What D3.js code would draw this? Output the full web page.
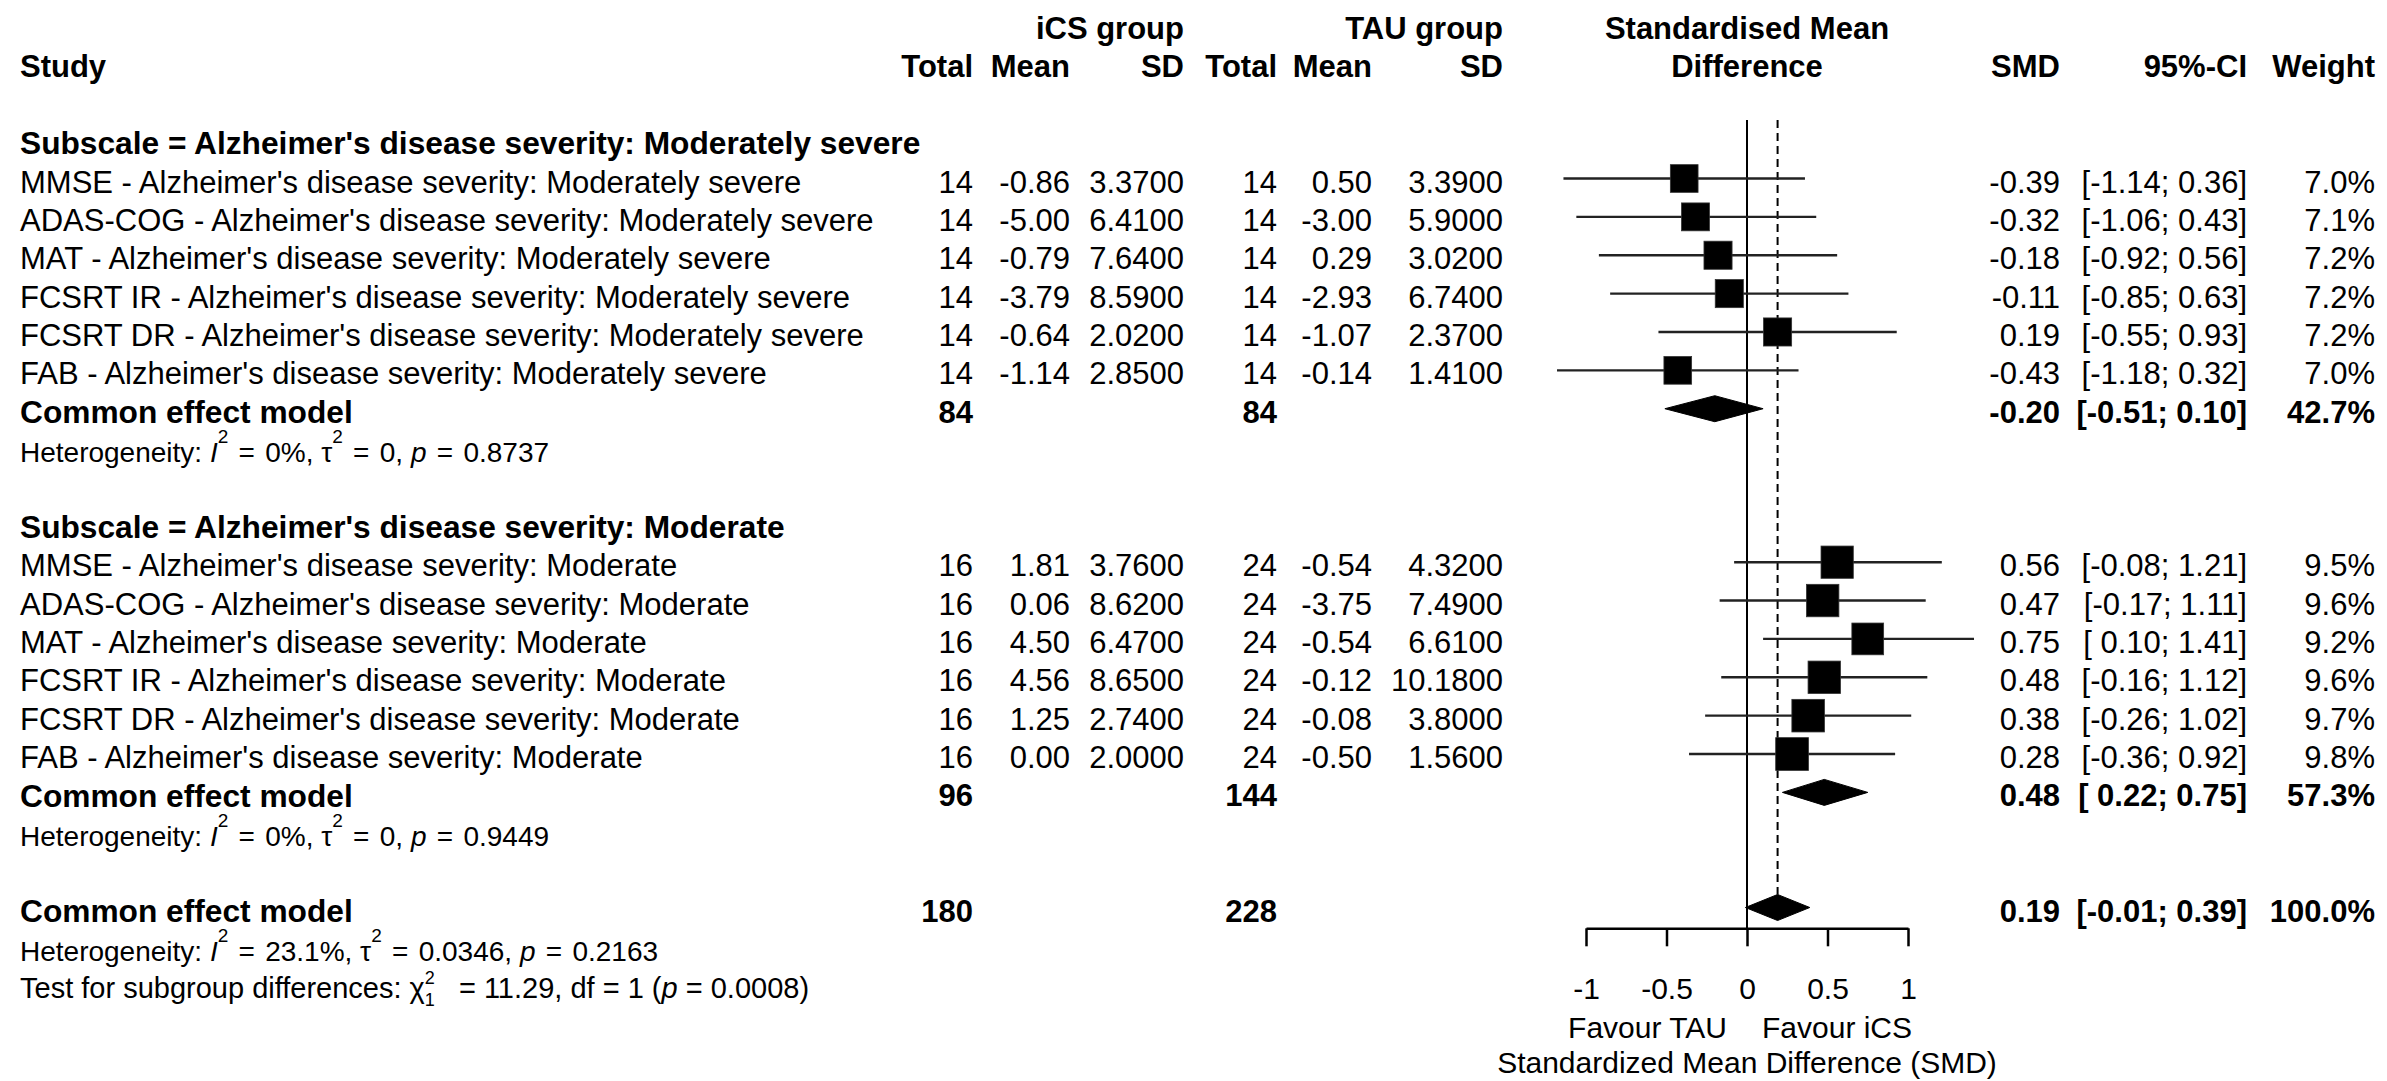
<!DOCTYPE html>
<html><head><meta charset="utf-8">
<script src="https://cdn.jsdelivr.net/npm/d3@7"></script>
<style>
html,body{margin:0;padding:0;background:#fff;}
svg{display:block;}
text{font-family:"Liberation Sans", Arial, sans-serif; fill:#000;}
</style></head><body>
<svg id="chart" width="2387" height="1081"></svg>
<script>
// ---------- data ----------
const studyNames = ["MMSE","ADAS-COG","MAT","FCSRT IR","FCSRT DR","FAB"];
const subgroupNames = ["Moderately severe","Moderate"];
const studyGroup = [0,0,0,0,0,0,1,1,1,1,1,1];
const icsTotal = [14,14,14,14,14,14,16,16,16,16,16,16];
const icsMean  = [-0.86,-5.00,-0.79,-3.79,-0.64,-1.14, 1.81,0.06,4.50,4.56,1.25,0.00];
const icsSD    = [3.37,6.41,7.64,8.59,2.02,2.85, 3.76,8.62,6.47,8.65,2.74,2.00];
const tauTotal = [14,14,14,14,14,14,24,24,24,24,24,24];
const tauMean  = [0.50,-3.00,0.29,-2.93,-1.07,-0.14, -0.54,-3.75,-0.54,-0.12,-0.08,-0.50];
const tauSD    = [3.39,5.90,3.02,6.74,2.37,1.41, 4.32,7.49,6.61,10.18,3.80,1.56];
const smd      = [-0.39,-0.32,-0.18,-0.11,0.19,-0.43, 0.56,0.47,0.75,0.48,0.38,0.28];
const ciLow    = [-1.14,-1.06,-0.92,-0.85,-0.55,-1.18, -0.08,-0.17,0.10,-0.16,-0.26,-0.36];
const ciHigh   = [0.36,0.43,0.56,0.63,0.93,0.32, 1.21,1.11,1.41,1.12,1.02,0.92];
const weight   = [7.0,7.1,7.2,7.2,7.2,7.0, 9.5,9.6,9.2,9.6,9.7,9.8];

const pooledLabel    = "Common effect model";
const pooledIcsTotal = [84,96,180];
const pooledTauTotal = [84,144,228];
const pooledSmd      = [-0.20,0.48,0.19];
const pooledLow      = [-0.51,0.22,-0.01];
const pooledHigh     = [0.10,0.75,0.39];
const pooledWeight   = [42.7,57.3,100.0];
const hetI2   = ["0%","0%","23.1%"];
const hetTau2 = ["0","0","0.0346"];
const hetP    = ["0.8737","0.9449","0.2163"];
const testChi2 = "11.29", testDf = "1", testP = "0.0008";
const axisTicks = [-1,-0.5,0,0.5,1];

// ---------- layout ----------
const svg = d3.select("#chart");
const FS = 31, FSL = 31, FSB = 31.7, FSH = 28, FST = 29;
const x = d3.scaleLinear().domain([-1,1]).range([1586,1908]);
const yRow = d3.scaleLinear().domain([0,19]).range([178.5,907.5]);
const boxSide = d3.scaleSqrt().domain([0,7.0]).range([0,27.7]);
const base = (row, fs) => yRow(row) + 0.358*fs + 3;

const col = {icsN:973, icsMean:1070, icsSD:1184, tauN:1277, tauMean:1372, tauSD:1503, smd:2060, ci:2247, w:2375};

function txt(xp, row, s, opt={}) {
  const fs = opt.size || FS;
  return svg.append("text")
    .attr("x", xp).attr("y", base(row, fs))
    .attr("text-anchor", opt.anchor || "start")
    .attr("xml:space","preserve")
    .style("white-space","pre")
    .style("font-size", fs+"px")
    .style("font-weight", opt.bold ? "bold" : "normal")
    .text(s);
}
const f2 = v => v.toFixed(2);
const f4 = v => v.toFixed(4);
const ciStr = (lo,hi) => "[" + (lo < 0 ? f2(lo) : " " + f2(lo)) + "; " + f2(hi) + "]";

// ---------- headers ----------
txt(col.icsSD, -4, "iCS group", {anchor:"end", bold:true});
txt(col.tauSD, -4, "TAU group", {anchor:"end", bold:true});
txt(x(0), -4, "Standardised Mean", {anchor:"middle", bold:true});
txt(x(0), -3, "Difference", {anchor:"middle", bold:true});
txt(20, -3, "Study", {bold:true});
[["icsN","Total"],["icsMean","Mean"],["icsSD","SD"],["tauN","Total"],["tauMean","Mean"],["tauSD","SD"],["smd","SMD"],["ci","95%-CI"],["w","Weight"]]
  .forEach(([k,s]) => txt(col[k], -3, s, {anchor:"end", bold:true}));

// ---------- reference lines ----------
svg.append("line").attr("x1",x(0)).attr("x2",x(0)).attr("y1",120).attr("y2",928.3)
  .attr("stroke","#000").attr("stroke-width",2);
svg.append("line").attr("x1",x(pooledSmd[2])).attr("x2",x(pooledSmd[2])).attr("y1",120).attr("y2",yRow(19)-13)
  .attr("stroke","#000").attr("stroke-width",2).attr("stroke-dasharray","8,5");

// ---------- subgroup headers ----------
subgroupNames.forEach((g,gi) => {
  txt(20, gi*10 - 1, "Subscale = Alzheimer's disease severity: " + g, {bold:true, size:FSB});
});

// ---------- studies ----------
studyNames.concat(studyNames).forEach((nm,k) => {
  const g = studyGroup[k], i = k - g*6, row = g*10 + i;
  txt(20, row, nm + " - Alzheimer's disease severity: " + subgroupNames[g], {size:FSL});
  txt(col.icsN, row, String(icsTotal[k]), {anchor:"end"});
  txt(col.icsMean, row, f2(icsMean[k]), {anchor:"end"});
  txt(col.icsSD, row, f4(icsSD[k]), {anchor:"end"});
  txt(col.tauN, row, String(tauTotal[k]), {anchor:"end"});
  txt(col.tauMean, row, f2(tauMean[k]), {anchor:"end"});
  txt(col.tauSD, row, f4(tauSD[k]), {anchor:"end"});
  txt(col.smd, row, f2(smd[k]), {anchor:"end"});
  txt(col.ci, row, ciStr(ciLow[k], ciHigh[k]), {anchor:"end"});
  txt(col.w, row, weight[k].toFixed(1) + "%", {anchor:"end"});
  const yc = yRow(row);
  svg.append("line").attr("x1",x(ciLow[k])).attr("x2",x(ciHigh[k])).attr("y1",yc).attr("y2",yc)
    .attr("stroke","#222").attr("stroke-width",2.4);
  const s = boxSide(weight[k]);
  svg.append("rect").attr("x",x(smd[k])-s/2).attr("y",yc-s/2).attr("width",s).attr("height",s)
    .attr("fill","#000").attr("stroke","#333").attr("stroke-width",0.8);
});

// ---------- pooled ----------
const pooledRows = [6,16,19];
const hetRows = [7,17,20];
pooledRows.forEach((row,j) => {
  txt(20, row, pooledLabel, {bold:true, size:FSB});
  txt(col.icsN, row, String(pooledIcsTotal[j]), {anchor:"end", bold:true});
  txt(col.tauN, row, String(pooledTauTotal[j]), {anchor:"end", bold:true});
  txt(col.smd, row, f2(pooledSmd[j]), {anchor:"end", bold:true});
  txt(col.ci, row, ciStr(pooledLow[j], pooledHigh[j]), {anchor:"end", bold:true});
  txt(col.w, row, pooledWeight[j].toFixed(1) + "%", {anchor:"end", bold:true});
  const yc = yRow(row), h = 13;
  const pts = [[x(pooledLow[j]),yc],[x(pooledSmd[j]),yc-h],[x(pooledHigh[j]),yc],[x(pooledSmd[j]),yc+h]];
  svg.append("path").attr("d", d3.line()(pts) + "Z").attr("fill","#000").attr("stroke","#000").attr("stroke-width",1);
});

// ---------- heterogeneity ----------
hetRows.forEach((row,j) => {
  const t = svg.append("text").attr("x",20).attr("y",base(row,FSH)+2).style("font-size",FSH+"px").attr("xml:space","preserve").style("white-space","pre");
  t.append("tspan").text("Heterogeneity: ");
  t.append("tspan").style("font-style","italic").text("I");
  t.append("tspan").attr("dy",-19).style("font-size","19px").text("2");
  t.append("tspan").attr("dy",19).attr("dx",2.5).text(" = ");
  t.append("tspan").attr("dx",2.5).text(hetI2[j] + ", \u03c4");
  t.append("tspan").attr("dy",-19).style("font-size","19px").text("2");
  t.append("tspan").attr("dy",19).attr("dx",2.5).text(" = ");
  t.append("tspan").attr("dx",2.5).text(hetTau2[j] + ", ");
  t.append("tspan").style("font-style","italic").text("p");
  t.append("tspan").attr("dx",2.5).text(" = ");
  t.append("tspan").attr("dx",2.5).text(hetP[j]);
});
{
  const t = svg.append("text").attr("x",20).attr("y",base(21,FST)).style("font-size",FST+"px").attr("xml:space","preserve").style("white-space","pre");
  t.append("tspan").text("Test for subgroup differences: \u03c7");
  t.append("tspan").attr("dy",-14).style("font-size","18px").text("2");
  t.append("tspan").attr("dy",22).attr("dx",-10).style("font-size","18px").text(testDf);
  t.append("tspan").attr("dy",-8).attr("dx",16).text(" = " + testChi2 + ", df = " + testDf + " (");
  t.append("tspan").style("font-style","italic").text("p");
  t.append("tspan").text(" = " + testP + ")");
}

// ---------- axis ----------
const axisY = 928.3;
const ax = svg.append("g").attr("transform",`translate(0,${axisY})`)
  .call(d3.axisBottom(x).tickValues(axisTicks).tickSize(18).tickSizeOuter(0).tickPadding(31).tickFormat(d => String(d)));
ax.select(".domain").attr("stroke","#000").attr("stroke-width",2.5);
ax.selectAll(".tick line").attr("stroke","#000").attr("stroke-width",2.5);
ax.selectAll(".tick text").style("font-size","30px").style("font-family",'"Liberation Sans", Arial, sans-serif').attr("fill","#000");

svg.append("text").attr("x",x(0)-20).attr("y",1026.7+11).attr("text-anchor","end").style("font-size","30px").text("Favour TAU");
svg.append("text").attr("x",x(0)+15).attr("y",1026.7+11).attr("text-anchor","start").style("font-size","30px").text("Favour iCS");
svg.append("text").attr("x",x(0)).attr("y",1061.7+11).attr("text-anchor","middle").style("font-size","30px").text("Standardized Mean Difference (SMD)");
</script>
</body></html>
